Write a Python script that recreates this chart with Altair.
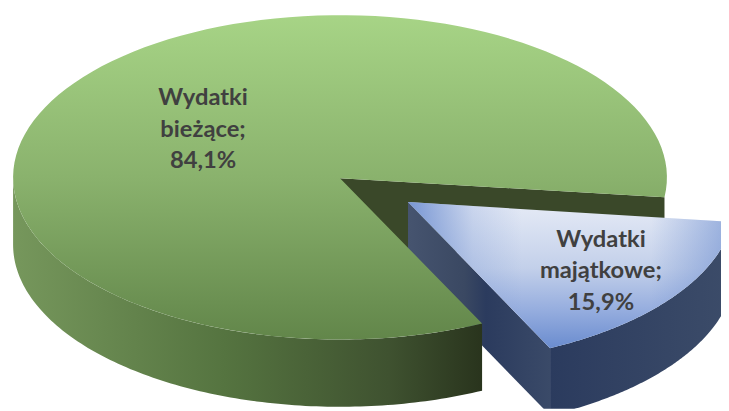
import math
import altair as alt
import pandas as pd

labels = ["Wydatki\nbieżące;\n84,1%", "Wydatki\nmajątkowe;\n15,9%"]
shares = [84.1, 15.9]

CX, CY, RX, RY = 340, 177, 327, 164
DEPTH = 68
OFF = (68, 25)
T0 = 7
T1 = T0 + shares[1] * 3.6
S = 729 / 737


def pt(t, dx=0, dy=0):
    r = math.radians(t)
    return (CX + RX * math.cos(r) + dx, CY + RY * math.sin(r) + dy)


def arc(a, b, dx=0, dy=0, n=120):
    return [pt(a + (b - a) * i / n, dx, dy) for i in range(n + 1)]


def frame(points):
    return pd.DataFrame(
        [{"x": p[0], "y": p[1], "i": i} for i, p in enumerate(points)]
    )


X = alt.X("x:Q", scale=alt.Scale(domain=[8 * S, 729 * S], nice=False, zero=False), axis=None)
Y = alt.Y("y:Q", scale=alt.Scale(domain=[411, 8], nice=False, zero=False), axis=None)


def shape(points, fill):
    return (
        alt.Chart(frame(points))
        .mark_line(fill=fill, stroke=None, strokeWidth=0, clip=True, interpolate="linear-closed")
        .encode(x=X, y=Y, order=alt.Order("i:Q"))
    )


def linear(stops, x2=0, y2=1):
    return alt.LinearGradient(
        gradient="linear",
        x1=0, y1=0, x2=x2, y2=y2,
        stops=[alt.GradientStop(offset=o, color=c) for o, c in stops],
    )


main_top_fill = linear([(0, "#a7d486"), (0.5, "#8ab26d"), (1, "#62864a")])
main_side_fill = linear([(0, "#76975c"), (0.45, "#557440"), (0.8, "#3f5230"), (1, "#29341d")], x2=1, y2=0)
wedge_side_fill = linear([(0, "#46546f"), (0.4, "#3a4862"), (0.55, "#2b3b5e"), (1, "#3a4a68")], x2=1, y2=0)
wedge_base_fill = linear([(0, "#e6ebf6"), (0.45, "#c3d0ea"), (0.75, "#94acde"), (1, "#6a8ccf")])
wedge_edge_fill = linear(
    [
        (0, "rgba(100,135,205,0.85)"),
        (0.2, "rgba(100,135,205,0.2)"),
        (0.35, "rgba(100,135,205,0)"),
        (0.75, "rgba(100,135,205,0)"),
        (1, "rgba(100,135,205,0.6)"),
    ],
    x2=1, y2=0,
)

interior = shape(
    [(CX, CY + 1), pt(T0), (pt(T0)[0], pt(T0)[1] + DEPTH), (CX, CY + DEPTH)], "#3a4829"
)
wedge_left = shape(
    [
        (CX + OFF[0], CY + OFF[1]),
        pt(T1, *OFF),
        pt(T1, OFF[0], OFF[1] + DEPTH),
        (CX + OFF[0], CY + OFF[1] + DEPTH),
    ],
    wedge_side_fill,
)
wedge_outer = shape(
    arc(T0, T1, *OFF) + arc(T1, T0, OFF[0], OFF[1] + DEPTH), linear(
        [(0, "#2b3b5e"), (1, "#3c4c69")], x2=1, y2=0)
)
wedge_points = [(CX + OFF[0], CY + OFF[1])] + arc(T0, T1, *OFF)
wedge_top = shape(wedge_points, wedge_base_fill)
wedge_edges = shape(wedge_points, wedge_edge_fill)
main_side = shape(arc(T1, 180) + arc(180, T1, 0, DEPTH), main_side_fill)
main_top = shape([(CX, CY + 1)] + arc(T1, 360 + T0), main_top_fill)

text_df = pd.DataFrame(
    {"x": [203, 601], "y": [97, 240], "label": [labels[0], labels[1]]}
)
text = (
    alt.Chart(text_df)
    .mark_text(
        font="Lato", fontSize=24, fontWeight="bold", color="#404040",
        lineBreak="\n", lineHeight=32, baseline="middle", align="center",
    )
    .encode(x=X, y=Y, text="label:N")
)

chart = (
    alt.layer(interior, wedge_left, wedge_outer, wedge_top, wedge_edges, main_side, main_top, text)
    .properties(
        width=721, height=403, padding=0,
        autosize=alt.AutoSizeParams(type="none"), background="white",
    )
    .configure_view(stroke=None)
)
chart.save("out.html", embed_options={"renderer": "svg", "actions": False})
